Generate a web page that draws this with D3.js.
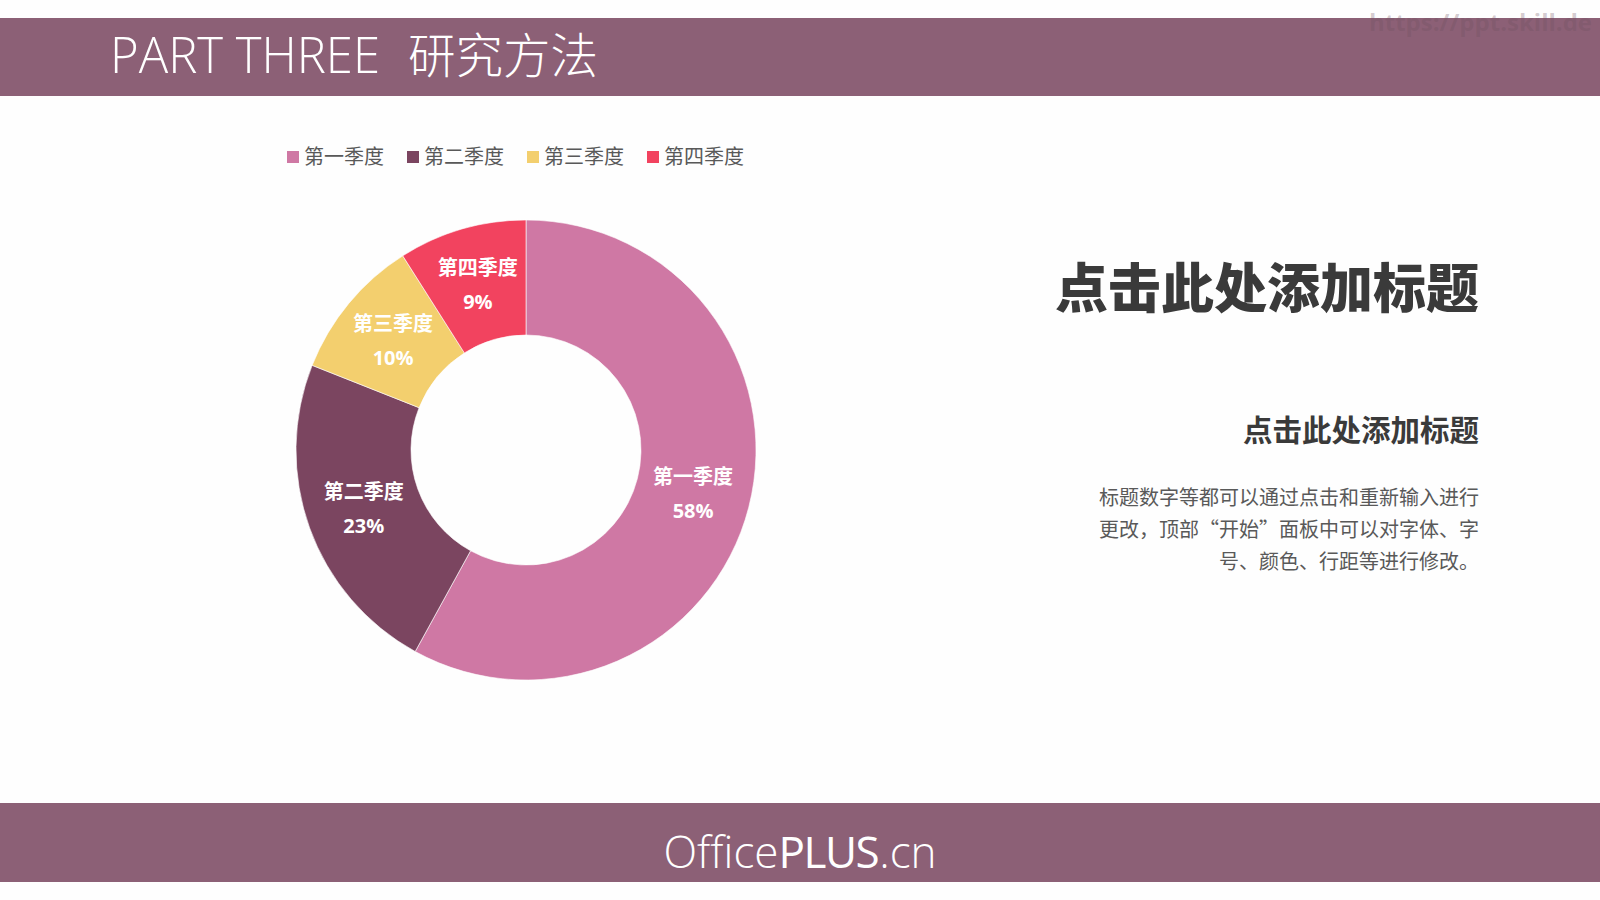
<!DOCTYPE html>
<html><head><meta charset="utf-8">
<script src="https://cdn.jsdelivr.net/npm/d3@7"></script>
<style>
html,body{margin:0;padding:0;background:#fefefe;overflow:hidden;}
svg{display:block;}
</style></head>
<body>
<svg id="chart" width="1600" height="900"></svg>
<script>
const categories = ["第一季度", "第二季度", "第三季度", "第四季度"];
const values = [58, 23, 10, 9];
const colors = ["#cf78a4", "#7b4560", "#f3cf6e", "#f2435f"];
const headerLatin = "PART THREE";
const headerCJK = "研究方法";
const mainTitle = "点击此处添加标题";
const subTitle = "点击此处添加标题";
const bodyLines = ["标题数字等都可以通过点击和重新输入进行", "更改，顶部“开始”面板中可以对字体、字", "号、颜色、行距等进行修改。"];

const svg = d3.select("#chart");
const band = "#8c6076";
const cjk = "'Noto Sans CJK SC','Noto Sans',sans-serif";

// background
svg.append("rect").attr("width",1600).attr("height",900).attr("fill","#fefefe");

// header band
svg.append("rect").attr("x",0).attr("y",18).attr("width",1600).attr("height",78).attr("fill",band);
svg.append("text").attr("x",110).attr("y",73)
  .attr("font-family","'Open Sans',sans-serif").attr("font-weight",300).attr("font-size",49)
  .attr("textLength",270).attr("lengthAdjust","spacingAndGlyphs")
  .attr("fill","#ffffff").text(headerLatin);
svg.append("text").attr("x",408).attr("y",73)
  .attr("font-family",cjk).attr("font-weight",300).attr("font-size",47.5)
  .attr("fill","#ffffff").text(headerCJK);

// watermark
svg.append("text").attr("x",1592).attr("y",31).attr("text-anchor","end")
  .attr("font-family","'Open Sans',sans-serif").attr("font-weight",700).attr("font-size",24)
  .attr("fill","#6f5060").attr("fill-opacity",0.3).text("https://ppt.skill.de");

// footer band
svg.append("rect").attr("x",0).attr("y",803).attr("width",1600).attr("height",79).attr("fill",band);
const ft = svg.append("text").attr("x",800).attr("y",868).attr("text-anchor","middle")
  .attr("font-family","'Open Sans','Noto Sans',sans-serif").attr("font-size",44).attr("fill","#ffffff");
ft.append("tspan").attr("font-weight",300).text("Office");
ft.append("tspan").attr("font-weight",500).attr("letter-spacing",-1.5).text("PLUS");
ft.append("tspan").attr("font-weight",300).attr("dx",1).text(".cn");

// legend
const legend = svg.append("g").attr("transform","translate(287,0)");
categories.forEach((c,i)=>{
  const g = legend.append("g").attr("transform",`translate(${i*120},0)`);
  g.append("rect").attr("x",0).attr("y",151).attr("width",12).attr("height",12).attr("fill",colors[i]);
  g.append("text").attr("x",17).attr("y",164).attr("font-family",cjk).attr("font-size",20)
    .attr("fill","#595959").text(c);
});

// donut
const cx = 526, cy = 450, R = 230, r = 115;
const pie = d3.pie().sort(null).value(d=>d.v);
const data = pie(categories.map((c,i)=>({c, v: values[i], col: colors[i]})));
const arc = d3.arc().innerRadius(r).outerRadius(R);
const g = svg.append("g").attr("transform",`translate(${cx},${cy})`);
g.selectAll("path").data(data).join("path")
  .attr("d",arc).attr("fill",d=>d.data.col).attr("stroke","#ffffff").attr("stroke-width",0.6);
const total = d3.sum(values);
const lbl = g.selectAll("g.lbl").data(data).join("g").attr("class","lbl")
  .attr("transform",d=>`translate(${arc.centroid(d)})`);
lbl.append("text").attr("y",-9).attr("text-anchor","middle")
  .attr("font-family",cjk).attr("font-weight",700).attr("font-size",20).attr("fill","#ffffff")
  .text(d=>d.data.c);
lbl.append("text").attr("y",25).attr("text-anchor","middle")
  .attr("font-family","'Open Sans',sans-serif").attr("font-weight",700).attr("font-size",20).attr("fill","#ffffff")
  .text(d=>Math.round(d.data.v/total*100)+"%");

// right texts
svg.append("text").attr("x",1479).attr("y",308).attr("text-anchor","end")
  .attr("font-family",cjk).attr("font-weight",900).attr("font-size",53).attr("fill","#3a3a3a")
  .text(mainTitle);
svg.append("text").attr("x",1479).attr("y",441).attr("text-anchor","end")
  .attr("font-family",cjk).attr("font-weight",700).attr("font-size",29.5).attr("fill","#3a3a3a")
  .text(subTitle);
bodyLines.forEach((t,i)=>{
  svg.append("text").attr("x",1479).attr("y",505+i*32).attr("text-anchor","end")
    .attr("font-family",cjk).attr("font-weight",400).attr("font-size",20).attr("fill","#595959")
    .text(t);
});
</script>
</body></html>
